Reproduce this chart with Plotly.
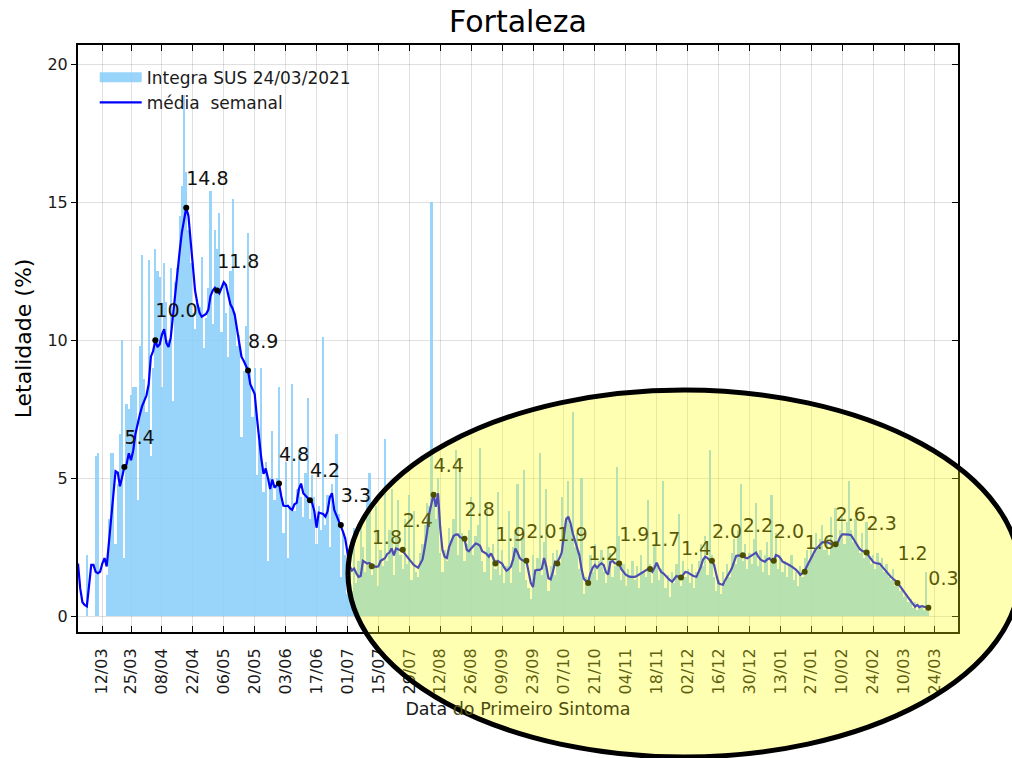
import pandas as pd
import plotly.graph_objects as go

start_date = "2020-03-01"

# daily lethality bars (%), from 01/03/2020
bars = [
    0, 0, 0, 0, 2.2, 0, 0, 0, 5.8, 5.9, 0, 0, 0, 1.5,
    3.5, 5.9, 5.9, 2.6, 4.8, 6.6, 10.0, 2.1, 7.7, 7.5, 8.0, 8.3, 8.3, 4.2,
    9.8, 13.1, 8.6, 7.4, 12.9, 5.8, 9.0, 13.3, 12.5, 12.3, 8.3, 12.8, 11.4, 10.0,
    12.6, 7.8, 12.1, 12.6, 14.5, 15.6, 18.9, 16.1, 14.0, 12.8, 11.0, 10.4, 11.5, 11.2,
    13.0, 9.7, 10.8, 11.9, 15.4, 10.6, 14.0, 13.3, 14.6, 10.3, 12.0, 11.0, 9.4, 12.5,
    15.1, 11.0, 9.8, 10.2, 6.5, 8.9, 10.5, 13.9, 8.8, 7.2, 9.0, 5.1, 6.3, 9.0,
    4.5, 5.6, 2.0, 5.0, 6.7, 4.2, 5.0, 8.3, 4.4, 3.0, 5.6, 2.1, 4.0, 8.4,
    3.8, 4.6, 6.0, 4.3, 3.6, 5.2, 7.9, 3.5, 5.1, 4.3, 2.6, 4.0, 3.1, 10.1,
    3.3, 4.4, 2.5, 4.8, 3.9, 6.6, 3.7, 1.4, 3.0, 2.2, 0.8, 1.6, 0.9, 3.2,
    1.2, 2.0, 3.5, 2.5, 1.6, 4.3, 5.2, 1.5, 1.9, 4.0, 1.1, 2.4, 1.8, 6.4,
    2.0, 3.1, 4.6, 1.5, 2.9, 4.2, 2.2, 1.7, 3.5, 1.9, 4.4, 1.3, 3.8, 1.6,
    1.4, 2.3, 2.6, 3.3, 4.1, 4.0, 15.0, 4.2, 3.5, 5.0, 2.3, 1.6, 2.4, 2.0,
    3.2, 2.6, 3.5, 6.0, 2.2, 5.3, 3.0, 2.0, 2.6, 3.1, 4.3, 2.2, 2.9, 3.3,
    6.1, 2.0, 1.6, 4.1, 2.5, 1.3, 2.6, 1.7, 4.5, 1.5, 2.4, 1.2, 1.8, 3.8,
    1.2, 2.5, 3.1, 4.8, 1.6, 2.8, 5.3, 1.3, 1.0, 0.6, 2.2, 1.4, 2.1, 5.9,
    1.5, 2.7, 4.6, 0.9, 1.8, 2.3, 1.5, 2.4, 1.9, 4.3, 2.8, 3.6, 4.9, 3.3,
    7.4, 2.5, 3.0, 1.7, 5.0, 0.8, 1.4, 1.1, 2.2, 1.6, 2.6, 1.3, 2.0, 2.4,
    1.6, 1.2, 2.5, 2.3, 1.4, 1.8, 5.4, 2.9, 1.3, 1.9, 1.1, 1.7, 1.5, 2.0,
    1.3, 1.8, 1.0, 2.2, 1.6, 1.4, 4.2, 1.9, 1.2, 2.6, 1.8, 1.3, 1.7, 4.9,
    1.0, 1.5, 0.7, 1.6, 1.2, 1.9, 3.7, 1.1, 2.0, 1.4, 1.7, 1.2, 1.9, 1.0,
    1.6, 2.0, 2.6, 1.8, 2.9, 1.5, 6.0, 2.2, 1.4, 0.9, 1.3, 0.8, 1.6, 1.2,
    1.9, 1.4, 2.3, 2.8, 1.9, 3.1, 4.8, 2.0, 2.6, 1.7, 2.3, 1.9, 2.8, 4.1,
    1.8, 2.4, 1.6, 2.2, 2.7, 1.5, 4.4, 2.1, 3.0, 1.7, 2.2, 1.6, 2.0, 1.4,
    1.9, 2.2, 1.3, 1.6, 1.1, 1.8, 1.4, 2.1, 2.4, 1.9, 2.8, 2.2, 3.0, 2.5,
    2.8, 3.3, 2.4, 2.9, 2.2, 3.6, 2.5, 3.9, 2.7, 3.1, 3.6, 2.6, 3.4, 4.9,
    3.1, 2.7, 3.5, 2.5, 2.3, 3.0, 2.1, 3.4, 2.4, 1.9, 2.2, 1.7, 2.3, 1.8,
    2.1, 1.6, 1.9, 1.4, 1.3, 1.7, 1.1, 1.3, 0.9, 1.0, 0.7, 0.8, 0.5, 0.6,
    0.3, 0.5, 0.2, 0.4, 0.3, 0.2, 1.6, 0.3,
]

# weekly mean (%)
weekly_mean = [
    1.9, 1.0, 0.5, 0.4, 0.35, 1.2, 1.85, 1.85, 1.6, 1.55, 1.6, 1.9, 2.1, 1.8,
    2.6, 3.6, 4.3, 5.25, 5.2, 4.7, 5.05, 5.4, 5.5, 5.9, 5.65, 6.0, 6.6, 7.0,
    7.3, 7.6, 7.8, 8.0, 8.4, 9.4, 9.6, 10.0, 9.75, 9.85, 10.2, 10.4, 9.9, 9.75,
    10.1, 10.9, 11.6, 12.6, 13.2, 13.9, 14.4, 14.8, 14.5, 13.6, 12.5, 11.8, 11.35, 11.0,
    10.85, 10.9, 10.95, 11.1, 11.6, 11.8, 11.9, 11.8, 11.7, 11.9, 12.1, 12.0, 11.7, 11.3,
    11.15, 10.9, 10.4, 9.9, 9.4, 9.25, 9.05, 8.9, 8.4, 8.2, 8.05, 7.2, 6.3, 5.7,
    5.15, 5.35, 5.0, 4.6, 4.95, 4.65, 4.75, 4.8, 4.35, 4.0, 3.98, 4.0, 3.9, 3.85,
    4.05, 4.1, 4.6, 4.8, 4.45, 4.35, 4.28, 4.2, 4.1, 3.8, 3.2, 3.75, 3.72, 3.7,
    3.6, 3.8, 4.3, 4.45, 3.85, 3.65, 3.5, 3.3, 3.05, 2.8, 2.2, 1.8, 1.65, 1.72,
    1.55, 1.42, 1.45, 2.0, 1.95, 1.9, 1.92, 1.84, 1.8, 1.78, 1.8, 2.0, 2.05, 2.1,
    2.25, 2.3, 2.45, 2.2, 2.45, 2.4, 2.38, 2.35, 2.25, 2.15, 2.05, 1.95, 1.85, 1.8,
    1.75, 1.9, 2.05, 2.5, 3.0, 3.7, 4.1, 4.42, 3.96, 4.45, 3.2, 2.4, 2.15, 2.1,
    2.5, 2.7, 2.9, 2.95, 2.96, 2.85, 2.82, 2.8, 2.4, 2.35, 2.45, 2.55, 2.63, 2.6,
    2.55, 2.35, 2.3, 2.25, 2.15, 2.27, 2.1, 1.92, 2.0, 1.95, 1.9, 1.75, 1.64, 1.7,
    1.8, 2.05, 2.45, 2.3, 2.1, 2.03, 2.0, 2.0, 1.6, 1.2, 1.05, 1.65, 1.67, 1.67,
    1.72, 2.1, 1.8, 1.37, 1.33, 1.6, 1.97, 1.95, 2.1, 2.3, 2.9, 3.5, 3.6, 3.36,
    3.0, 2.7, 2.45, 2.2, 1.7, 1.35, 1.27, 1.25, 1.55, 1.75, 1.85, 1.75, 1.85, 1.91,
    1.85, 1.6, 1.5, 1.95, 2.0, 1.91, 1.9, 1.89, 1.7, 1.6, 1.5, 1.45, 1.42, 1.42,
    1.42, 1.45, 1.5, 1.55, 1.6, 1.65, 1.7, 1.7, 1.6, 1.75, 1.93, 1.75, 1.6, 1.55,
    1.45, 1.38, 1.3, 1.24, 1.35, 1.45, 1.42, 1.41, 1.5, 1.6, 1.58, 1.52, 1.48, 1.44,
    1.42, 1.6, 1.79, 2.05, 2.15, 2.1, 2.02, 2.0, 1.85, 1.5, 1.19, 1.15, 1.13, 1.3,
    1.42, 1.58, 1.73, 1.95, 2.18, 2.2, 2.18, 2.2, 2.12, 2.09, 2.15, 2.18, 2.25, 2.3,
    2.15, 2.05, 2.0, 1.97, 2.05, 2.09, 2.0, 1.99, 2.21, 2.18, 2.1, 1.97, 1.93, 1.9,
    1.85, 1.8, 1.75, 1.68, 1.6, 1.49, 1.55, 1.63, 1.8, 1.95, 2.15, 2.3, 2.42, 2.5,
    2.6, 2.67, 2.68, 2.69, 2.65, 2.6, 2.57, 2.6, 2.67, 2.85, 2.96, 2.96, 2.96, 2.95,
    2.93, 2.8, 2.63, 2.52, 2.42, 2.36, 2.32, 2.3, 2.18, 2.05, 1.96, 1.92, 1.9, 1.89,
    1.8, 1.7, 1.6, 1.5, 1.42, 1.35, 1.28, 1.22, 1.1, 0.98, 0.88, 0.76, 0.66, 0.55,
    0.42, 0.34, 0.4, 0.32, 0.36, 0.34, 0.3, 0.3,
]

# labelled points (every 14 days)
dot_values = [5.4, 10.0, 14.8, 11.8, 8.9, 4.8, 4.2, 3.3, 1.8, 2.4, 4.4, 2.8, 1.9, 2.0,
              1.9, 1.2, 1.9, 1.7, 1.4, 2.0, 2.2, 2.0, 1.6, 2.6, 2.3, 1.2, 0.3]
dot_labels = ["5.4", "10.0", "14.8", "11.8", "8.9", "4.8", "4.2", "3.3", "1.8", "2.4",
              "4.4", "2.8", "1.9", "2.0", "1.9", "1.2", "1.9", "1.7", "1.4", "2.0",
              "2.2", "2.0", "1.6", "2.6", "2.3", "1.2", "0.3"]

tick_dates = ["2020-03-12", "2020-03-25", "2020-04-08", "2020-04-22", "2020-05-06",
              "2020-05-20", "2020-06-03", "2020-06-17", "2020-07-01", "2020-07-15",
              "2020-07-29", "2020-08-12", "2020-08-26", "2020-09-09", "2020-09-23",
              "2020-10-07", "2020-10-21", "2020-11-04", "2020-11-18", "2020-12-02",
              "2020-12-16", "2020-12-30", "2021-01-13", "2021-01-27", "2021-02-10",
              "2021-02-24", "2021-03-10", "2021-03-24"]
tick_text = ["12/03", "25/03", "08/04", "22/04", "06/05", "20/05", "03/06", "17/06",
             "01/07", "15/07", "29/07", "12/08", "26/08", "09/09", "23/09", "07/10",
             "21/10", "04/11", "18/11", "02/12", "16/12", "30/12", "13/01", "27/01",
             "10/02", "24/02", "10/03", "24/03"]

dates = pd.date_range(start_date, periods=len(weekly_mean), freq="D")
dot_dates = dates[21::14]

FONT = "DejaVu Sans"
BAR_COLOR = "rgba(135,206,250,0.85)"

fig = go.Figure()
fig.add_trace(go.Bar(x=dates, y=bars, width=86400000, marker_color=BAR_COLOR,
                     marker_line_width=0, showlegend=False))
fig.add_trace(go.Scatter(x=[None], y=[None], mode="lines",
                         line=dict(color=BAR_COLOR, width=14),
                         name="Integra SUS 24/03/2021"))
fig.add_trace(go.Scatter(x=dates, y=weekly_mean, mode="lines",
                         line=dict(color="#0000ff", width=2.2),
                         name="média\u00a0 semanal"))
fig.add_trace(go.Scatter(x=dot_dates, y=dot_values, mode="markers",
                         marker=dict(color="black", size=6), showlegend=False))
fig.add_trace(go.Scatter(x=dot_dates, y=[v + 1.0 for v in dot_values], mode="text",
                         text=dot_labels, textposition="middle right",
                         textfont=dict(family=FONT, size=19, color="#111111"),
                         showlegend=False))
fig.add_trace(go.Scatter(x=[None], y=[None], yaxis="y2", showlegend=False))

fig.update_layout(
    width=1012, height=758,
    margin=dict(l=78, r=54, t=45, b=126),
    paper_bgcolor="white", plot_bgcolor="white",
    font=dict(family=FONT, color="#1a1a1a"),
    bargap=0,
    title=dict(text="Fortaleza", x=0.5, xref="paper", xanchor="center",
               y=0.971, yref="container", yanchor="middle",
               font=dict(family=FONT, size=30, color="black")),
    xaxis=dict(
        type="date", range=["2020-03-01", "2021-04-03 10:00"],
        tickvals=tick_dates, ticktext=tick_text, tickangle=-90,
        tickfont=dict(family=FONT, size=16, color="#1a1a1a"),
        ticks="inside", ticklen=6, tickcolor="black", ticklabelstandoff=8,
        showline=True, linecolor="black", linewidth=2, mirror="ticks",
        showgrid=True, gridcolor="rgba(0,0,0,0.12)", gridwidth=1,
        zeroline=False,
        title=dict(text="Data <span style='color:#4c4c10'>do Primeiro Sintoma</span>",
                   font=dict(family=FONT, size=17.5, color="#1a1a1a"), standoff=9),
    ),
    yaxis=dict(
        range=[-0.58, 20.7], tickvals=[0, 5, 10, 15, 20],
        tickfont=dict(family=FONT, size=16, color="#1a1a1a"),
        ticks="outside", ticklen=5, tickcolor="black",
        showline=True, linecolor="black", linewidth=2, mirror=True,
        showgrid=True, gridcolor="rgba(0,0,0,0.12)", gridwidth=1,
        zeroline=False,
        title=dict(text="Letalidade (%)", font=dict(family=FONT, size=22, color="black"),
                   standoff=10),
    ),
    yaxis2=dict(
        overlaying="y", side="right", range=[-0.58, 20.7], tickvals=[0, 5, 10, 15, 20],
        ticks="inside", ticklen=6, tickcolor="black", showticklabels=False,
        showgrid=False, zeroline=False, showline=False,
    ),
    legend=dict(x=0.019, y=0.975, xanchor="left", yanchor="top",
                bgcolor="rgba(0,0,0,0)", itemwidth=42,
                font=dict(family=FONT, size=17, color="#1a1a1a"), tracegroupgap=0),
    shapes=[dict(type="circle", xref="paper", yref="paper",
                 x0=0.3068, x1=1.0705, y0=-0.2129, y1=0.4123,
                 fillcolor="rgba(255,255,0,0.3)",
                 line=dict(color="black", width=5), layer="above")],
)

fig.write_html("out.html", config={"displayModeBar": False},
               post_script="document.body.style.margin='0';")
